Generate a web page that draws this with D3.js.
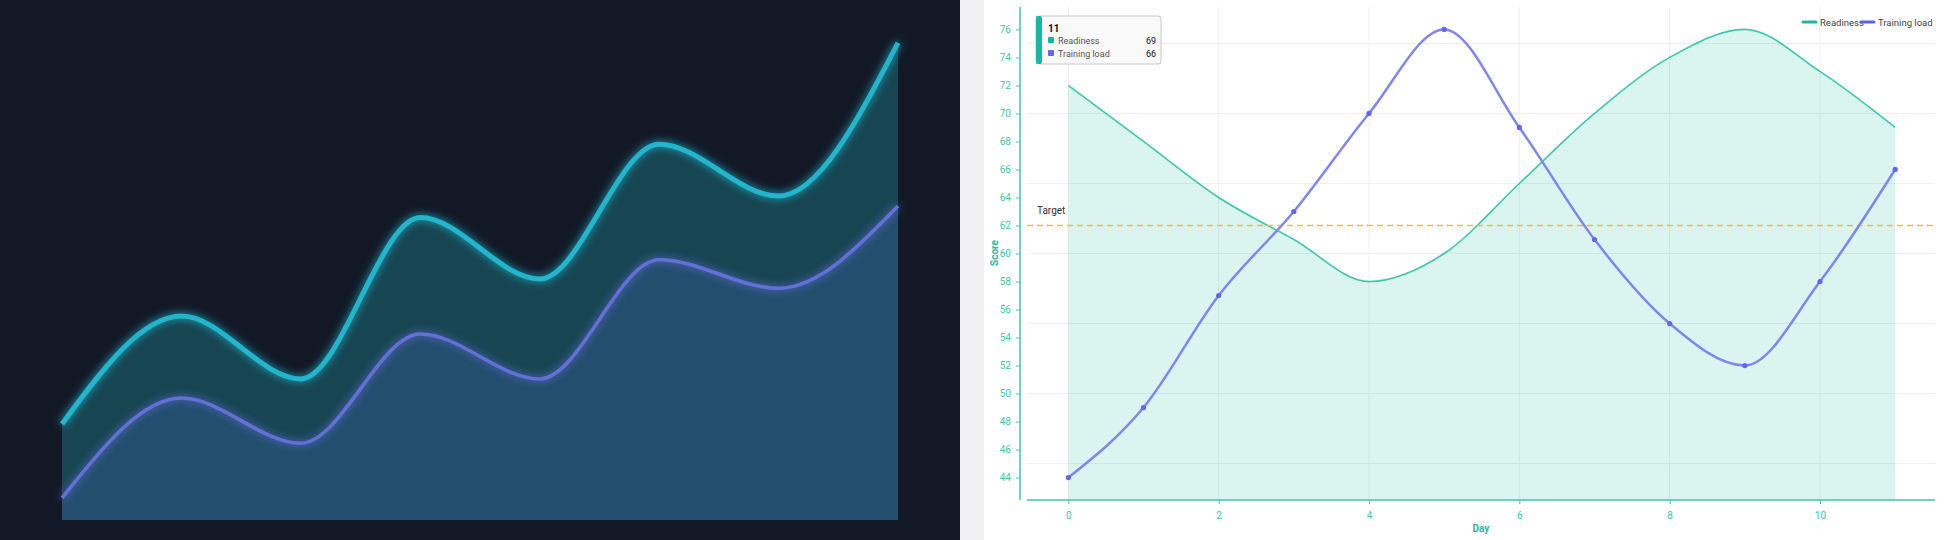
<!DOCTYPE html>
<html><head><meta charset="utf-8">
<script src="https://cdn.jsdelivr.net/npm/d3@7"></script>
<style>body{margin:0;background:#fff;font-family:Roboto,sans-serif}svg{display:block}</style>
</head><body><svg id="c" width="1944" height="540"></svg>
<script>
// Left (dark) panel data
const darkIdx = [0,1,2,3,4,5,6,7];
const darkUpper = [20,42.5,29.4,63,50.2,78.3,67.5,99.4];
const darkLower = [4.6,25.4,16,38.75,29.4,54.2,48.3,65.4];
// Right panel data
const days = [0,1,2,3,4,5,6,7,8,9,10,11];
const readiness = [72,68,64,61,58,60,65,70,74,76,73,69];
const trainingLoad = [44,49,57,63,70,76,69,61,55,52,58,66];
const yTicks = [44,46,48,50,52,54,56,58,60,62,64,66,68,70,72,74,76];
const yGrid = [45,50,55,60,65,70,75];
const xTicks = [0,2,4,6,8,10];
const target = 62;

const svg = d3.select('#c');
// backgrounds
svg.append('rect').attr('x',0).attr('y',0).attr('width',960).attr('height',540).attr('fill','#131826');
svg.append('rect').attr('x',960).attr('y',0).attr('width',24).attr('height',540).attr('fill','#f1f0f5');
svg.append('rect').attr('x',984).attr('y',0).attr('width',960).attr('height',540).attr('fill','#ffffff');

// ---- dark panel
const defs = svg.append('defs');
const f = defs.append('filter').attr('id','glow').attr('x','-20%').attr('y','-20%').attr('width','140%').attr('height','140%');
f.append('feGaussianBlur').attr('stdDeviation',4).attr('result','b');
const m = f.append('feMerge'); m.append('feMergeNode').attr('in','b'); m.append('feMergeNode').attr('in','SourceGraphic');
const dx = d3.scaleLinear().domain([0,7]).range([62,898]);
const dy = d3.scaleLinear().domain([0,100]).range([520,40]);
const curve = d3.curveMonotoneX;
const g = svg.append('g');
g.append('path').datum(darkIdx).attr('fill','#174552')
 .attr('d', d3.area().x(i=>dx(i)).y0(i=>dy(darkLower[i])).y1(i=>dy(darkUpper[i])).curve(curve));
g.append('path').datum(darkIdx).attr('fill','#234e6e')
 .attr('d', d3.area().x(i=>dx(i)).y0(dy(0)).y1(i=>dy(darkLower[i])).curve(curve));
g.append('path').datum(darkIdx).attr('fill','none').attr('stroke','#6470d8').attr('stroke-width',3.5).attr('filter','url(#glow)')
 .attr('d', d3.line().x(i=>dx(i)).y(i=>dy(darkLower[i])).curve(curve));
g.append('path').datum(darkIdx).attr('fill','none').attr('stroke','#22b5cc').attr('stroke-width',5).attr('filter','url(#glow)')
 .attr('d', d3.line().x(i=>dx(i)).y(i=>dy(darkUpper[i])).curve(curve));

// ---- right panel
const x = d3.scaleLinear().domain([-0.55,11.53]).range([1027,1935]);
const y = d3.scaleLinear().domain([42.4,77.6]).range([500,7]);
const r = svg.append('g');
r.selectAll('.gy').data(yGrid).join('line').attr('x1',1027).attr('x2',1935).attr('y1',d=>y(d)).attr('y2',d=>y(d)).attr('stroke','#eeeeee');
r.selectAll('.gx').data(xTicks).join('line').attr('x1',d=>x(d)).attr('x2',d=>x(d)).attr('y1',7).attr('y2',500).attr('stroke','#eeeeee');
r.append('path').datum(days).attr('fill','rgba(38,190,160,0.17)')
 .attr('d', d3.area().x(i=>x(i)).y0(y(42.4)).y1(i=>y(readiness[i])).curve(curve));
r.append('path').datum(days).attr('fill','none').attr('stroke','#3cc7ae').attr('stroke-width',1.6)
 .attr('d', d3.line().x(i=>x(i)).y(i=>y(readiness[i])).curve(curve));
r.append('line').attr('x1',1027).attr('x2',1935).attr('y1',y(target)).attr('y2',y(target)).attr('stroke','#f7b84a').attr('stroke-width',1.3).attr('stroke-dasharray','6,4');
r.append('text').attr('x',1037).attr('y',y(target)-11).attr('font-size',10).attr('fill','#333').text('Target');
r.append('path').datum(days).attr('fill','none').attr('stroke','#7f86f0').attr('stroke-width',2.5)
 .attr('d', d3.line().x(i=>x(i)).y(i=>y(trainingLoad[i])).curve(curve));
r.selectAll('.pt').data(days).join('circle').attr('cx',i=>x(i)).attr('cy',i=>y(trainingLoad[i])).attr('r',2.6).attr('fill','#6366f1');
// axes
const ya = r.append('g').attr('transform','translate(1020,0)').call(d3.axisLeft(y).tickValues(yTicks).tickSize(4).tickPadding(5));
ya.select('.domain').attr('stroke','#3cc7ae').attr('stroke-width',1.5).attr('d','M0,7V500');
ya.selectAll('.tick line').attr('stroke','#3cc7ae');
ya.selectAll('text').attr('fill','#3cc7ae').attr('font-size',10).attr('font-family','Roboto');
const xa = r.append('g').attr('transform','translate(0,500)').call(d3.axisBottom(x).tickValues(xTicks).tickSize(4).tickPadding(8));
xa.select('.domain').attr('stroke','#3cc7ae').attr('stroke-width',1.5).attr('d','M1027,0H1935');
xa.selectAll('.tick line').attr('stroke','#3cc7ae');
xa.selectAll('text').attr('fill','#3cc7ae').attr('font-size',10).attr('font-family','Roboto');
r.append('text').attr('transform','translate(998,253) rotate(-90)').attr('text-anchor','middle').attr('font-size',10).attr('font-weight','bold').attr('fill','#2bb89e').text('Score');
r.append('text').attr('x',1481).attr('y',532).attr('text-anchor','middle').attr('font-size',10).attr('font-weight','bold').attr('fill','#2bb89e').text('Day');
// legend
const leg = [['Readiness','#14b8a6',1803],['Training load','#5b5ff0',1861]];
leg.forEach(([t,c,lx])=>{
  r.append('line').attr('x1',lx).attr('x2',lx+13).attr('y1',22).attr('y2',22).attr('stroke',c).attr('stroke-width',3).attr('stroke-linecap','round');
  r.append('text').attr('x',lx+17).attr('y',25.5).attr('font-size',9.5).attr('fill','#444').text(t);
});
// tooltip
const tt = r.append('g');
const last = days.length-1;
tt.append('rect').attr('x',1036).attr('y',16).attr('width',125).attr('height',48).attr('rx',3).attr('fill','#f9f9f9').attr('stroke','#c8c8c8');
tt.append('rect').attr('x',1036).attr('y',16).attr('width',6).attr('height',48).attr('rx',2).attr('fill','#14b8a6');
tt.append('text').attr('x',1048).attr('y',32).attr('font-size',10).attr('font-weight','bold').attr('fill','#111').text(days[last]);
[['Readiness','#14b8a6',readiness[last],44],['Training load','#6366f1',trainingLoad[last],57]].forEach(([t,c,v,ty])=>{
  tt.append('rect').attr('x',1048).attr('y',ty-7).attr('width',6).attr('height',6).attr('rx',1).attr('fill',c);
  tt.append('text').attr('x',1058).attr('y',ty).attr('font-size',9).attr('fill','#555').text(t);
  tt.append('text').attr('x',1156).attr('y',ty).attr('text-anchor','end').attr('font-size',9).attr('fill','#111').text(v);
});
</script></body></html>
